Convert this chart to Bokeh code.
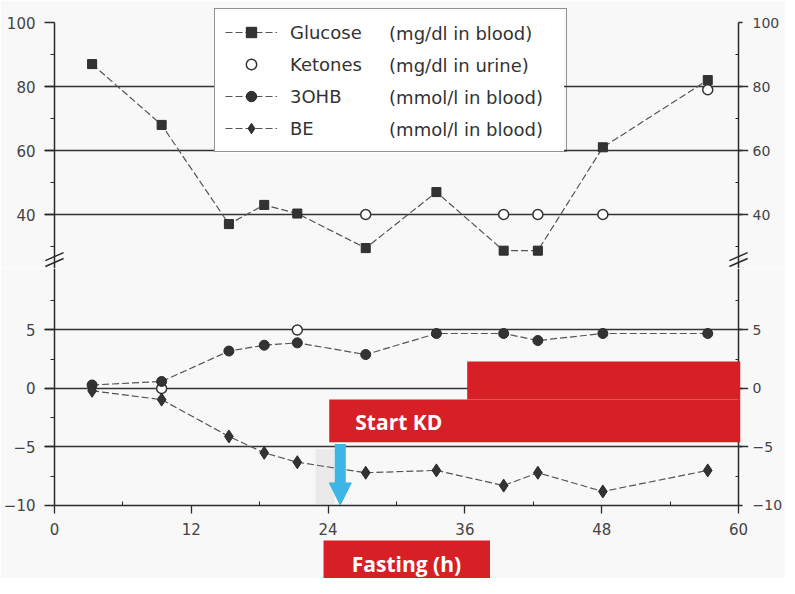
from bokeh.plotting import figure
from bokeh.layouts import column
from bokeh.models import (Range1d, LinearAxis, FixedTicker, Legend, LegendItem,
                          Label, BoxAnnotation, Arrow, NormalHead)
from bokeh.embed import file_html
from bokeh.resources import INLINE

# ---------------- data ----------------
hours = [3.3, 9.4, 15.3, 18.4, 21.3, 27.3, 33.5, 39.4, 42.4, 48.1, 57.3]
glucose = [87, 68, 37, 43, 40.3, 29.5, 47, 28.7, 28.7, 61, 82]          # mg/dl in blood
ketone_hours_upper = [27.3, 39.4, 42.4, 48.1, 57.3]
ketones_upper = [40, 40, 40, 40, 79]                                       # mg/dl in urine
ketone_hours_lower = [9.4, 21.3]
ketones_lower = [0, 5]
ohb = [0.3, 0.6, 3.2, 3.7, 3.9, 2.9, 4.7, 4.7, 4.1, 4.7, 4.7]              # mmol/l in blood
be = [-0.2, -0.95, -4.1, -5.5, -6.3, -7.2, -7.0, -8.3, -7.2, -8.8, -7.0]   # mmol/l in blood

x_ticks = [0, 12, 24, 36, 48, 60]
x_minor = [6, 18, 30, 42, 54]
upper_ticks = [40, 60, 80, 100]
upper_minor = [30, 50, 70, 90]
lower_ticks = [-10, -5, 0, 5]
lower_minor = [-7.5, -2.5, 2.5, 7.5]
upper_grid = [40, 60, 80]
lower_grid = [-5, 0, 5]

# ---------------- styles ----------------
BG = "#f8f8f8"
INK = "#2a2a2a"
LINE = "#555555"
RED = "#d71f26"
BLUE = "#3db5e6"
W = 785
FONT = "DejaVu Sans"
DASH = "7 3"
PX_PER_H = 686 / 60.0
X_PAD = 10 / PX_PER_H
XR = Range1d(-X_PAD, 60 + X_PAD)
BORDERS = dict(min_border_left=44, min_border_right=35)


def label_axis(ax, side, ticks):
    """axis in the side panel: tick labels only"""
    ax.ticker = FixedTicker(ticks=ticks)
    ax.axis_line_color = None
    ax.major_tick_line_color = None
    ax.minor_tick_line_color = None
    ax.major_tick_out = 0
    ax.major_tick_in = 0
    ax.minor_tick_out = 0
    ax.minor_tick_in = 0
    ax.major_label_text_font = FONT
    ax.major_label_text_color = "#444444"
    if side == "left":
        ax.major_label_text_font_size = "15px"
        ax.major_label_standoff = 9
    else:
        ax.major_label_text_font_size = "14px"
        ax.major_label_standoff = 4


def rule_axis(ax, side, ticks, minor, loc, bounds):
    """axis drawn at a data location: line and ticks only"""
    ax.ticker = FixedTicker(ticks=ticks, minor_ticks=minor)
    ax.fixed_location = loc
    ax.bounds = bounds
    ax.axis_line_color = INK
    ax.axis_line_width = 1.5
    ax.major_tick_line_color = INK
    ax.minor_tick_line_color = INK
    ax.major_tick_line_width = 1.3
    ax.major_label_text_color = None
    if side == "left":
        ax.major_tick_out, ax.major_tick_in = 12, 0
        ax.minor_tick_out, ax.minor_tick_in = 4, 0
    elif side == "right":
        ax.major_tick_out, ax.major_tick_in = 4, 0
        ax.minor_tick_out, ax.minor_tick_in = 0, 3
    else:
        ax.major_tick_out, ax.major_tick_in = 8, 0
        ax.minor_tick_out, ax.minor_tick_in = 0, 4


# ---------------- upper panel ----------------
UP_BOTTOM = 23.125
up = figure(width=W, height=268, x_range=XR, y_range=Range1d(UP_BOTTOM, 105),
            output_backend="svg", toolbar_location=None, x_axis_location=None,
            min_border_top=6, min_border_bottom=0, **BORDERS,
            background_fill_color=BG, border_fill_color=BG, outline_line_color=None)
label_axis(up.yaxis[0], "left", upper_ticks)
ra = LinearAxis()
up.add_layout(ra, "right")
label_axis(ra, "right", upper_ticks)
for side, loc in (("left", 0), ("right", 60)):
    ax = LinearAxis()
    rule_axis(ax, side, upper_ticks, upper_minor, loc, (UP_BOTTOM, 100))
    up.add_layout(ax, side)
up.xgrid.visible = False
up.ygrid.ticker = FixedTicker(ticks=upper_grid)
up.ygrid.grid_line_color = "#333333"
up.ygrid.grid_line_width = 1.3

g_line = up.line(hours, glucose, line_color=LINE, line_width=1.2, line_dash=DASH)
g_pts = up.scatter(hours, glucose, marker="square", size=9, fill_color="#333333", line_color=INK)
k_pts = up.scatter(ketone_hours_upper, ketones_upper, marker="circle", size=10,
                   fill_color="white", line_color="#333333", line_width=1.5)
# hidden copies so the legend in this panel can show the lower-panel series
o_line = up.line(hours, ohb, line_color=LINE, line_width=1.2, line_dash=DASH, visible=False)
o_pts = up.scatter(hours, ohb, marker="circle", size=10, fill_color="#333333", line_color=INK, visible=False)
b_line = up.line(hours, be, line_color=LINE, line_width=1.2, line_dash=DASH, visible=False)
b_pts = up.scatter(hours, be, marker="diamond", size=13, fill_color="#333333", line_color=INK, visible=False)

# white panel behind the (transparent) legend, so the unit texts can sit on it
up.add_layout(BoxAnnotation(left=13.99, right=44.69, top=103.75, bottom=59.375,
                            fill_color="white", fill_alpha=1.0, line_color=None))
legend = Legend(items=[
    LegendItem(label="Glucose", renderers=[g_line, g_pts]),
    LegendItem(label="Ketones", renderers=[k_pts]),
    LegendItem(label="3OHB", renderers=[o_line, o_pts]),
    LegendItem(label="BE", renderers=[b_line, b_pts]),
], location=(170, 116), margin=0, padding=10, spacing=6,
    glyph_width=52, glyph_height=26, label_height=26, label_width=266, label_standoff=13,
    label_text_font=FONT, label_text_font_size="18px", label_text_color="#333333",
    border_line_color=INK, border_line_width=1.5, background_fill_alpha=0.0)
up.add_layout(legend)

units = ["(mg/dl in blood)", "(mg/dl in urine)", "(mmol/l in blood)", "(mmol/l in blood)"]
for i, u in enumerate(units):
    up.add_layout(Label(x=29.35, y=96.56 - 10 * i, text=u, text_font=FONT, text_font_size="18px",
                        text_color="#333333", text_align="left", text_baseline="middle",
                        level="overlay"))

# axis-break marks (two short slanted strokes across each vertical axis)
for xb in (0, 60):
    for yb in (23.75, 25.6):
        up.add_layout(Arrow(start=None, end=None, x_start=xb - 0.8, y_start=yb,
                            x_end=xb + 0.8, y_end=yb + 2.5,
                            line_color=INK, line_width=1.5, level="overlay"))

# ---------------- lower panel ----------------
LO_BOTTOM = -10 - 73 / 11.7
LO_TOP = 10.256
lo = figure(width=W, height=310, x_range=XR, y_range=Range1d(LO_BOTTOM, LO_TOP),
            output_backend="svg", toolbar_location=None,
            min_border_top=0, min_border_bottom=0, **BORDERS,
            background_fill_color=BG, border_fill_color=BG, outline_line_color=None)
label_axis(lo.yaxis[0], "left", lower_ticks)
ra2 = LinearAxis(major_label_overrides={-5: "\u22125", -10: "\u221210"})
lo.add_layout(ra2, "right")
label_axis(ra2, "right", lower_ticks)
for side, loc in (("left", 0), ("right", 60)):
    ax = LinearAxis()
    rule_axis(ax, side, lower_ticks, lower_minor, loc, (-10, LO_TOP))
    lo.add_layout(ax, side)
xa = lo.xaxis[0]
rule_axis(xa, "below", x_ticks, x_minor, -10, (0, 60))
xa.major_label_text_color = "#444444"
xa.major_label_text_font = FONT
xa.major_label_text_font_size = "15px"
xa.major_label_standoff = 10
lo.xgrid.visible = False
lo.ygrid.ticker = FixedTicker(ticks=lower_grid)
lo.ygrid.grid_line_color = "#333333"
lo.ygrid.grid_line_width = 1.3

lo.line(hours, ohb, line_color=LINE, line_width=1.2, line_dash=DASH)
lo.line(hours, be, line_color=LINE, line_width=1.2, line_dash=DASH)
lo.scatter(ketone_hours_lower, ketones_lower, marker="circle", size=10,
           fill_color="white", line_color="#333333", line_width=1.5)
lo.scatter(hours, ohb, marker="circle", size=10, fill_color="#333333", line_color=INK)
lo.scatter(hours, be, marker="diamond", size=13, fill_color="#333333", line_color=INK)

# annotations
lo.add_layout(BoxAnnotation(left=22.9, right=24.6, top=-5.2, bottom=-10,
                            fill_color="#999999", fill_alpha=0.15, line_color=None))
lo.add_layout(BoxAnnotation(left=24.1, right=60.15, top=-0.94, bottom=-4.6,
                            fill_color=RED, fill_alpha=1.0, line_color=None))
lo.add_layout(BoxAnnotation(left=36.2, right=60.15, top=2.3, bottom=-0.94,
                            fill_color=RED, fill_alpha=1.0, line_color=None))
lo.add_layout(Label(x=30.2, y=-2.85, text="Start KD", text_color="white", text_font="Open Sans",
                    text_font_style="bold", text_font_size="21px", text_align="center",
                    text_baseline="middle", level="overlay"))
lo.add_layout(Arrow(end=NormalHead(size=22, fill_color=BLUE, line_color=BLUE),
                    x_start=25.07, y_start=-4.75, x_end=25.07, y_end=-9.95,
                    line_color=BLUE, line_width=11))
lo.add_layout(BoxAnnotation(left=23.6, right=38.2, top=-12.99, bottom=LO_BOTTOM - 1,
                            fill_color=RED, fill_alpha=1.0, line_color=None))
lo.add_layout(Label(x=30.87, y=-15.0, text="Fasting (h)", text_color="white",
                    text_font="Open Sans", text_font_style="bold", text_font_size="21px",
                    text_align="center", text_baseline="middle", level="overlay"))

layout = column(up, lo, spacing=0)
open("out.html", "w").write(file_html(layout, INLINE))
